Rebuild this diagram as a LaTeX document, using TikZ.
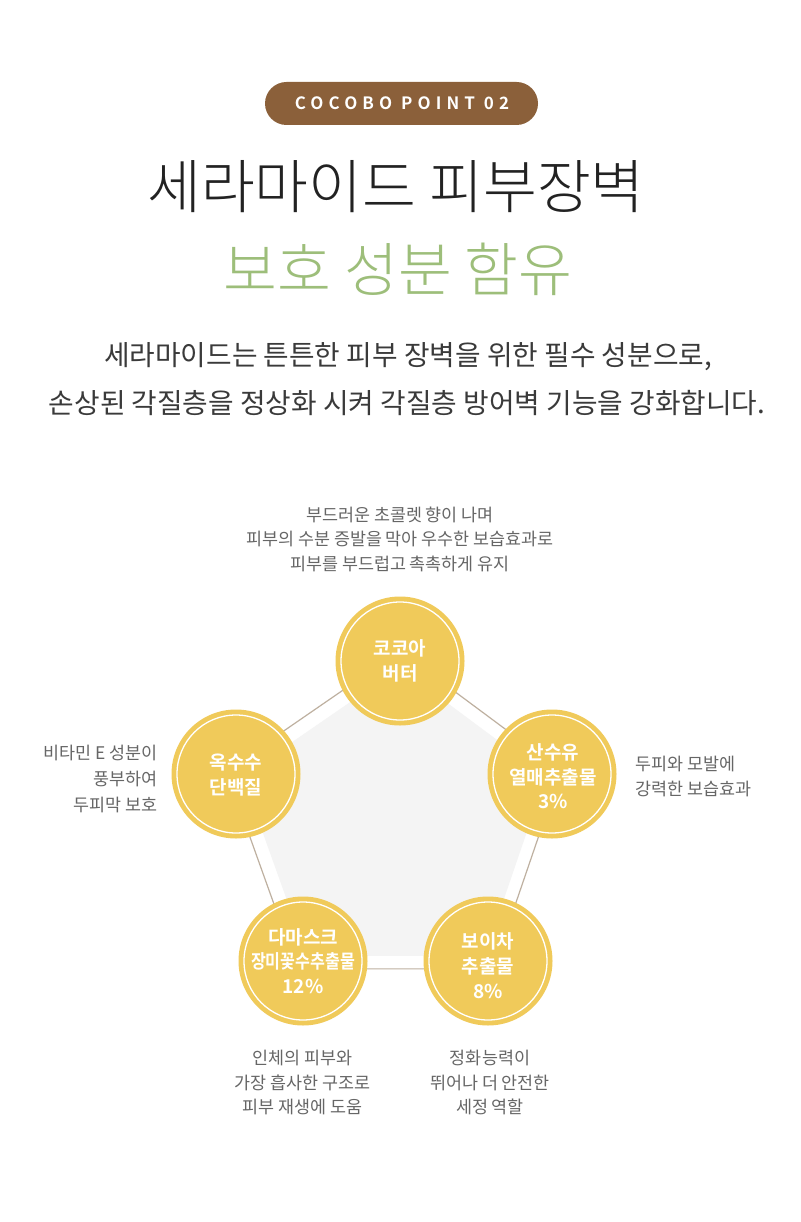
\documentclass[tikz,border=0pt]{standalone}
\usepackage{fontspec}
\setmainfont{Noto Sans CJK KR}
\newfontfamily\lightfont{Noto Sans CJK KR Light}
\newfontfamily\boldfont{Noto Sans CJK KR Bold}
\newfontfamily\badgefont[LetterSpace=30]{Noto Sans CJK KR Bold}
\usetikzlibrary{calc}
\definecolor{badgebrown}{RGB}{139,96,58}
\definecolor{titleblack}{RGB}{34,34,34}
\definecolor{titlegreen}{RGB}{157,190,122}
\definecolor{paratext}{RGB}{58,58,58}
\definecolor{smalltext}{RGB}{102,102,102}
\definecolor{circleyellow}{RGB}{240,202,90}
\definecolor{pentaline}{RGB}{190,176,160}
\definecolor{pentafill}{RGB}{244,244,244}
\tikzset{
  txt/.style={inner sep=0pt, anchor=base},
  title/.style={txt, font=\lightfont\fontsize{58.5}{64}\selectfont},
  para/.style={txt, text=paratext, font=\fontsize{27.8}{32}\selectfont},
  small/.style={txt, text=smalltext, font=\fontsize{17.4}{21}\selectfont},
  ctext/.style={txt, text=white, font=\boldfont\fontsize{19}{22}\selectfont},
  ingredient/.style={circle, fill=circleyellow, minimum size=129pt, inner sep=0pt},
  ring/.style={circle, draw=white, line width=1.3pt, minimum size=118pt, inner sep=0pt},
}
\begin{document}
\begin{tikzpicture}[x=1pt,y=-1pt]
\useasboundingbox[fill=white] (0,0) rectangle (800,1222);
% badge
\node[fill=badgebrown, rounded corners=21.5pt, minimum width=273pt, minimum height=43pt, inner sep=0pt] (badge) at (401.5,103.5) {};
\node[txt, text=white, font=\badgefont\fontsize{17}{20}\selectfont] (badgetext) at (402,109.5) {COCOBO POINT 02};
% titles
\node[title, text=titleblack] (title1) at (396,209) {세라마이드 피부장벽};
\node[title, text=titlegreen] (title2) at (398,291.5) {보호 성분 함유};
% paragraph
\node[para] (para1) at (408,365.3) {세라마이드는 튼튼한 피부 장벽을 위한 필수 성분으로,};
\node[para] (para2) at (407,413.8) {손상된 각질층을 정상화 시켜 각질층 방어벽 기능을 강화합니다.};
% pentagon
\coordinate (pc) at (400,830);
\coordinate (vT) at (400,661);
\coordinate (vR) at (552,774);
\coordinate (vL) at (236,774);
\coordinate (vBL) at (303,961);
\coordinate (vBR) at (488,961);
\draw[pentaline, line width=1.2pt, fill=white]
  ($(pc)!1.06!(vT)$) -- ($(pc)!1.06!(vR)$) -- ($(pc)!1.06!(vBR)$) -- ($(pc)!1.06!(vBL)$) -- ($(pc)!1.06!(vL)$) -- cycle;
\fill[pentafill]
  ($(pc)!0.96!(vT)$) -- ($(pc)!0.96!(vR)$) -- ($(pc)!0.96!(vBR)$) -- ($(pc)!0.96!(vBL)$) -- ($(pc)!0.96!(vL)$) -- cycle;
% circles
\foreach \n/\p in {cT/vT, cR/vR, cL/vL, cBL/vBL, cBR/vBR}{
  \node[ingredient] (\n) at (\p) {};
  \node[ring] (\n ring) at (\p) {};
}
% circle texts
\node[ctext] (tT1) at (400,655.5) {코코아};
\node[ctext] (tT2) at (400,680.5) {버터};
\node[ctext] (tR1) at (553,759.5) {산수유};
\node[ctext] (tR2) at (553,784.5) {열매추출물};
\node[ctext] (tR3) at (553,808.5) {3\%};
\node[ctext] (tL1) at (236,769.5) {옥수수};
\node[ctext] (tL2) at (236,794) {단백질};
\node[ctext] (tBL1) at (303,944.5) {다마스크};
\node[ctext] (tBL2) at (303,968.5) {\scalebox{0.85}[1]{장미꽃수추출물}};
\node[ctext] (tBL3) at (303,993.5) {12\%};
\node[ctext] (tBR1) at (488,948.5) {보이차};
\node[ctext] (tBR2) at (488,973.5) {추출물};
\node[ctext] (tBR3) at (488,998.5) {8\%};
% descriptions
\node[small] (dT1) at (400,521) {부드러운 초콜렛 향이 나며};
\node[small] (dT2) at (400,545.5) {피부의 수분 증발을 막아 우수한 보습효과로};
\node[small] (dT3) at (400,570.5) {피부를 부드럽고 촉촉하게 유지};
\node[small, anchor=base east] (dL1) at (158,759) {비타민 E 성분이};
\node[small, anchor=base east] (dL2) at (158,785.5) {풍부하여};
\node[small, anchor=base east] (dL3) at (158,811) {두피막 보호};
\node[small, anchor=base west] (dR1) at (635,770.5) {두피와 모발에};
\node[small, anchor=base west] (dR2) at (635,795.5) {강력한 보습효과};
\node[small] (dBL1) at (302.5,1064.5) {인체의 피부와};
\node[small] (dBL2) at (302.5,1089.5) {가장 흡사한 구조로};
\node[small] (dBL3) at (302.5,1113.5) {피부 재생에 도움};
\node[small] (dBR1) at (490,1064.5) {정화능력이};
\node[small] (dBR2) at (490,1089.5) {뛰어나 더 안전한};
\node[small] (dBR3) at (490,1113.5) {세정 역할};
\end{tikzpicture}
\end{document}
